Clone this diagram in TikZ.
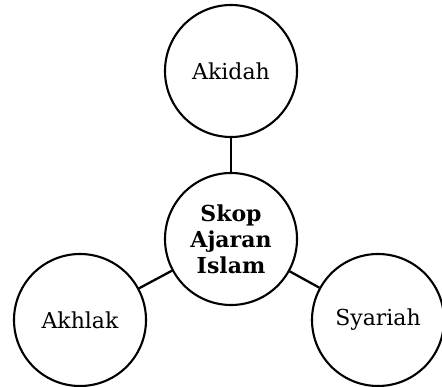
\documentclass[tikz,border=0pt]{standalone}
\usepackage{fontspec}
\setmainfont{DejaVu Serif}
\newcommand\circtext{\fontsize{22pt}{26pt}\selectfont}
\newcommand\hubtext{\fontsize{22pt}{26pt}\selectfont\bfseries}
\begin{document}
\begin{tikzpicture}[x=1pt,y=1pt,
  circ/.style={draw=black,line width=2.1pt,circle,minimum size=132pt,inner sep=0pt,align=center,font=\circtext},
  hub/.style={circ,font=\hubtext},
  link/.style={draw=black,line width=2.3pt}]
\useasboundingbox (0,0) rectangle (442,-387);
\node[circ] (akidah) at (231,-71) {Akidah};
\node[hub] (skop) at (231,-239) {Skop\\Ajaran\\Islam};
\node[circ] (akhlak) at (80,-320) {Akhlak};
\node[circ] (syariah) at (378,-320) {Syariah};
\draw[link] (akidah) -- (skop);
\draw[link] (skop) -- (akhlak);
\draw[link] (skop) -- (syariah);
\end{tikzpicture}
\end{document}
